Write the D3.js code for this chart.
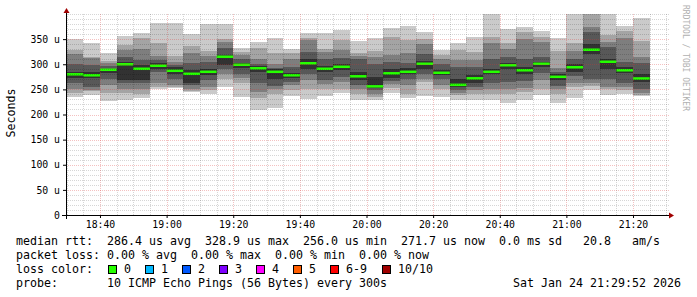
<!DOCTYPE html>
<html>
<head>
<meta charset="utf-8">
<script src="https://cdn.jsdelivr.net/npm/d3@7"></script>
<style>
  body { margin: 0; background: #fff; }
  text { font-family: "DejaVu Sans Mono", monospace; }
</style>
</head>
<body>
<svg width="697" height="297"></svg>
<script>
// 5 minute slots (start time of each step)
var slots = ['18:30','18:35','18:40','18:45','18:50','18:55','19:00','19:05','19:10','19:15',
             '19:20','19:25','19:30','19:35','19:40','19:45','19:50','19:55','20:00','20:05',
             '20:10','20:15','20:20','20:25','20:30','20:35','20:40','20:45','20:50','20:55',
             '21:00','21:05','21:10','21:15','21:20'];

// sorted ping rtts per slot, in microseconds (p1 = fastest, p10 = slowest)
var p1  = [235,239,226,228,232,250,252,244,240,255,235,209,212,237,231,236,243,229,228,243,232,236,235,228,229,229,223,228,239,223,233,248,238,241,236];
var p2  = [243,246,242,242,240,255,255,246,248,270,262,232,240,248,250,250,250,240,235,252,240,264,250,238,240,240,240,245,250,240,255,256,250,249,238];
var p3  = [250,249,259,250,250,262,259,250,254,280,272,245,250,258,268,260,265,250,240,260,258,270,259,242,248,250,250,252,268,250,262,262,255,255,242];
var p4  = [262,255,270,262,262,285,270,258,268,290,280,262,256,265,280,268,275,258,248,266,270,280,270,248,255,262,265,266,282,257,276,270,270,262,250];
var p5  = [272,272,282,268,269,291,281,263,278,299,292,285,270,272,290,285,288,268,253,272,280,290,278,255,262,280,290,280,295,268,285,320,290,282,265];
var p6  = [284,285,290,305,299,302,294,288,290,318,303,296,290,282,310,297,300,285,275,290,292,306,288,270,278,290,302,294,305,280,300,340,310,294,280];
var p7  = [300,299,296,315,309,308,298,302,305,332,310,300,292,295,325,310,312,310,300,305,302,320,300,295,295,310,315,310,315,285,310,365,334,305,303];
var p8  = [320,312,302,328,330,316,305,323,316,345,318,310,300,310,348,325,328,316,315,318,322,340,310,308,308,342,331,350,345,292,326,375,345,352,315];
var p9  = [328,315,307,338,352,343,316,336,327,350,325,332,322,322,352,330,348,322,326,355,348,350,318,328,325,355,342,364,355,327,342,405,358,367,347];
var p10 = [350,342,322,356,363,383,383,360,380,381,332,345,352,330,362,362,368,347,353,373,376,365,328,342,355,410,371,374,367,353,410,430,410,376,392];
var median = [280,278,289,300,291,297,287,281,285,315,299,292,285,278,302,291,295,276,256.0,282,
              285,301,283,259,272,285,298,288,301,275,294,328.9,305,288,271.7];

var yTicks = [0, 50, 100, 150, 200, 250, 300, 350];
var xTicks = ['18:40','19:00','19:20','19:40','20:00','20:20','20:40','21:00','21:20'];

var legendLines = [
  'median rtt:  286.4 us avg  328.9 us max  256.0 us min  271.7 us now  0.0 ms sd   20.8   am/s',
  'packet loss: 0.00 % avg  0.00 % max  0.00 % min  0.00 % now',
  'loss color:',
  'probe:       10 ICMP Echo Pings (56 Bytes) every 300s'
];
var lossLabels = ['0', '1', '2', '3', '4', '5', '6-9', '10/10'];
var lossColors = ['#26ff00', '#00b8ff', '#0059ff', '#7e00ff', '#ff00ff', '#ff5e00', '#ff0000', '#a00000'];
var stamp = 'Sat Jan 24 21:29:52 2026';

var svg = d3.select('svg');

function at(hm) {
    var p = hm.split(':');
    return new Date(Date.UTC(2026, 0, 24, +p[0], +p[1]));
}

var x = d3.scaleUtc()
    .domain([new Date(Date.UTC(2026, 0, 24, 18, 29, 48)), new Date(Date.UTC(2026, 0, 24, 21, 30, 48))])
    .range([66, 669]);
var y = d3.scaleLinear().domain([0, 400]).range([215, 14]);

svg.append('clipPath').attr('id', 'plot')
  .append('rect').attr('x', 66).attr('y', 14).attr('width', 603).attr('height', 201);

// smoke: 5 nested bands, outer ones lightest
var ranks = [p1, p2, p3, p4, p5, p6, p7, p8, p9, p10];
var smokeColors = ['#cacaca', '#a4a4a4', '#7e7e7e', '#585858', '#323232'];
var rows = slots.map(function(s, i) {
    return {t: at(s), pings: ranks.map(function(r) { return r[i]; }), median: median[i]};
});

var plotG = svg.append('g').attr('clip-path', 'url(#plot)');

smokeColors.forEach(function(col, b) {
    plotG.selectAll('.band' + b)
        .data(rows)
        .enter()
        .append('rect')
        .attr('class', 'band' + b)
        .attr('x', function(d) { return x(d.t); })
        .attr('width', function(d) { return x(d3.utcMinute.offset(d.t, 5)) - x(d.t); })
        .attr('y', function(d) { return y(d.pings[9 - b]); })
        .attr('height', function(d) { return y(d.pings[b]) - y(d.pings[9 - b]); })
        .attr('fill', col)
        .attr('shape-rendering', 'crispEdges');
});

// median band
plotG.selectAll('.med')
    .data(rows)
    .enter()
    .append('rect')
    .attr('class', 'med')
    .attr('x', function(d) { return x(d.t); })
    .attr('width', function(d) { return x(d3.utcMinute.offset(d.t, 5)) - x(d.t); })
    .attr('y', function(d) { return y(d.median) - 1.25; })
    .attr('height', 2.5)
    .attr('fill', lossColors[0]);

// grid on top, like rrdtool
var gridG = svg.append('g');
var minorY = d3.range(10, 401, 10).filter(function(v) { return v % 50 !== 0; });
var majorY = d3.range(50, 351, 50);
var minorX = d3.utcMinute.every(5).range(x.domain()[0], x.domain()[1]).filter(function(t) { return t.getUTCMinutes() % 20 !== 0; });
var majorX = d3.utcMinute.every(20).range(x.domain()[0], x.domain()[1]);

function hLines(vals, cls, color) {
    gridG.selectAll('.' + cls).data(vals).enter().append('line')
        .attr('class', cls)
        .attr('x1', 66).attr('x2', 669)
        .attr('y1', function(v) { return Math.round(y(v)) + 0.5; })
        .attr('y2', function(v) { return Math.round(y(v)) + 0.5; })
        .attr('stroke', color).attr('stroke-dasharray', '1,1');
}
function vLines(vals, cls, color) {
    gridG.selectAll('.' + cls).data(vals).enter().append('line')
        .attr('class', cls)
        .attr('y1', 14).attr('y2', 215)
        .attr('x1', function(t) { return Math.round(x(t)) + 0.5; })
        .attr('x2', function(t) { return Math.round(x(t)) + 0.5; })
        .attr('stroke', color).attr('stroke-dasharray', '1,1');
}
hLines(minorY.concat([400]), 'hmin', 'rgba(0,0,0,0.16)');
vLines(minorX, 'vmin', 'rgba(0,0,0,0.16)');
hLines(majorY, 'hmaj', 'rgba(220,50,50,0.3)');
vLines(majorX, 'vmaj', 'rgba(220,50,50,0.3)');

// axes
var xAxis = d3.axisBottom(x)
    .tickValues(xTicks.map(at))
    .tickFormat(d3.utcFormat('%H:%M'))
    .tickSize(3).tickPadding(3);
var xg = svg.append('g').attr('transform', 'translate(0,215)').call(xAxis);
xg.select('.domain').remove();
xg.selectAll('text').attr('font-family', '"DejaVu Sans Mono", monospace').attr('font-size', 9.8).attr('fill', '#000');
xg.selectAll('line').attr('stroke', '#000');

var yAxis = d3.axisLeft(y)
    .tickValues(yTicks)
    .tickFormat(function(v) { return v === 0 ? '0' : v + ' u'; })
    .tickSize(3).tickPadding(3);
var yg = svg.append('g').attr('transform', 'translate(66,0)').call(yAxis);
yg.select('.domain').remove();
yg.selectAll('text').attr('font-family', '"DejaVu Sans Mono", monospace').attr('font-size', 9.8).attr('fill', '#000');
yg.selectAll('line').attr('stroke', '#000');

svg.append('line').attr('x1', 62).attr('x2', 670).attr('y1', 215.5).attr('y2', 215.5).attr('stroke', '#000');
svg.append('line').attr('x1', 66.5).attr('x2', 66.5).attr('y1', 219).attr('y2', 11).attr('stroke', '#000');
svg.append('path').attr('d', 'M669,212.5L674,215.5L669,218.5Z').attr('fill', '#a00000');
svg.append('path').attr('d', 'M63.5,13L66.5,8L69.5,13Z').attr('fill', '#a00000');

svg.append('text')
    .attr('transform', 'translate(15,113)rotate(-90)')
    .attr('text-anchor', 'middle')
    .attr('font-size', 11.6)
    .text('Seconds');

svg.append('text')
    .attr('transform', 'translate(683,5)rotate(90)')
    .attr('font-size', 8)
    .attr('fill', '#b0b0b0')
    .text('RRDTOOL / TOBI OETIKER');

// legend
var legendG = svg.append('g').attr('font-size', 11.63).style('white-space', 'pre');
legendLines.forEach(function(line, i) {
    legendG.append('text')
        .attr('x', 16).attr('y', 245 + i * 14)
        .attr('xml:space', 'preserve')
        .text(line);
});

var lossX = d3.scalePoint().domain(lossLabels.slice(0, 7)).range([108, 330]);
var lossItems = legendG.selectAll('.loss')
    .data(lossLabels)
    .enter()
    .append('g')
    .attr('class', 'loss')
    .attr('transform', function(d, i) {
        var bx = i < 7 ? lossX(d) : 382;
        return 'translate(' + bx + ',0)';
    });
lossItems.append('rect')
    .attr('x', 0.5).attr('y', 265.5).attr('width', 8).attr('height', 8)
    .attr('fill', function(d, i) { return lossColors[i]; })
    .attr('stroke', '#000');
lossItems.append('text')
    .attr('x', 16).attr('y', 273)
    .text(function(d) { return d; });

legendG.append('text')
    .attr('x', 681).attr('y', 287)
    .attr('text-anchor', 'end')
    .text(stamp);
</script>
</body>
</html>
